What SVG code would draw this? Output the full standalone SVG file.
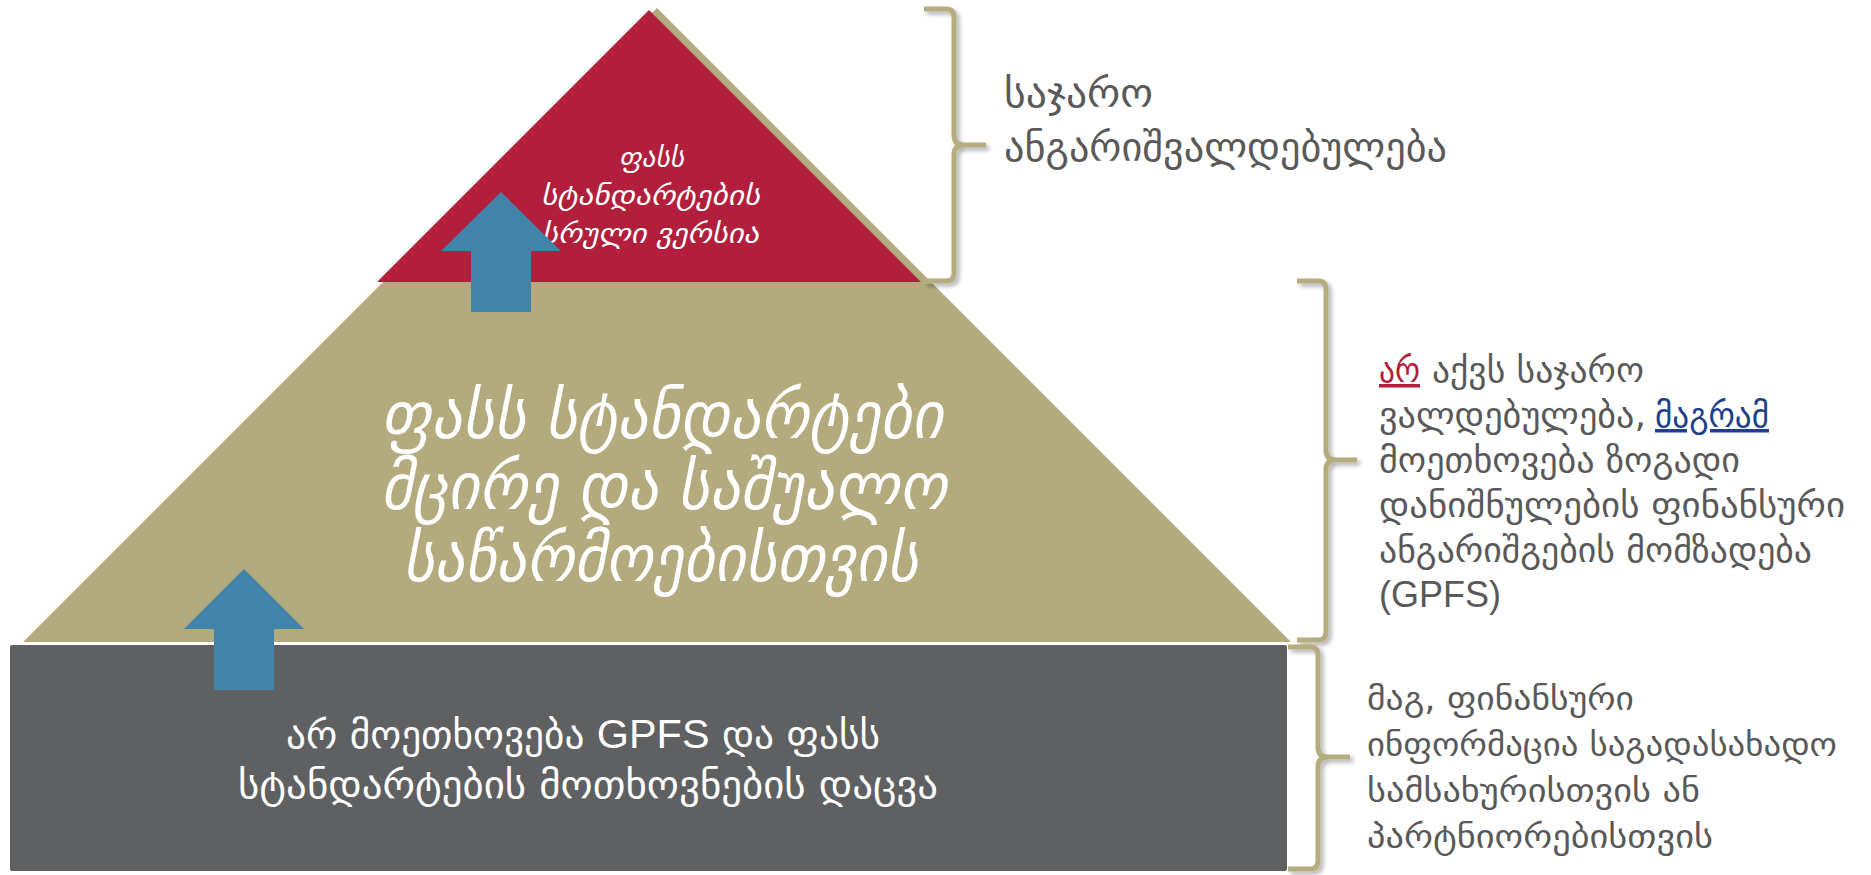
<svg xmlns="http://www.w3.org/2000/svg" width="1871" height="875" viewBox="0 0 1871 875">
<style>
.geo{font-family:"DejaVu Sans","Noto Sans",sans-serif}
.lat{font-family:"Liberation Sans",Arial,sans-serif}
.wt{fill:#ffffff;font-style:italic}
.gt{fill:#595959}
.brace{fill:none;stroke:#b5ad80;stroke-width:5;stroke-linecap:butt;stroke-linejoin:round;filter:url(#sh)}
.arrow{fill:#4283a9}
</style>
<defs>
<filter id="sh" x="-50%" y="-10%" width="200%" height="120%">
<feDropShadow dx="3" dy="3" stdDeviation="2" flood-color="#000" flood-opacity="0.3"/>
</filter>
</defs>
<rect width="1871" height="875" fill="#ffffff"/>
<g id="tier-middle">
<polygon points="657,8 1291,642 23,642" fill="#b3aa7d"/>
<text class="geo wt" font-size="66" x="381" y="438" textLength="562" lengthAdjust="spacingAndGlyphs">ფასს სტანდარტები</text>
<text class="geo wt" font-size="66" x="381" y="509" textLength="566" lengthAdjust="spacingAndGlyphs">მცირე და საშუალო</text>
<text class="geo wt" font-size="66" x="403" y="581" textLength="515" lengthAdjust="spacingAndGlyphs">საწარმოებისთვის</text>
</g>
<g id="tier-top">
<polygon points="649,10 921,282 377,282" fill="#b21f3c"/>
<text class="geo wt" font-size="28" x="619" y="167" textLength="65" lengthAdjust="spacingAndGlyphs">ფასს</text>
<text class="geo wt" font-size="28" x="541" y="205" textLength="219" lengthAdjust="spacingAndGlyphs">სტანდარტების</text>
<text class="geo wt" font-size="28" x="542" y="243" textLength="217" lengthAdjust="spacingAndGlyphs">სრული ვერსია</text>
</g>
<g id="tier-bottom">
<rect x="10" y="645" width="1277" height="226" rx="2" fill="#5f6062"/>
<text class="geo" fill="#ffffff" font-size="38" x="286" y="748" textLength="594" lengthAdjust="spacingAndGlyphs">არ მოეთხოვება <tspan class="lat" font-size="40">GPFS</tspan> და ფასს</text>
<text class="geo" fill="#ffffff" font-size="38" x="238" y="798" textLength="700" lengthAdjust="spacingAndGlyphs">სტანდარტების მოთხოვნების დაცვა</text>
</g>
<g id="note-top">
<path class="brace" d="M924,9 L946,9 Q954,9 954,17 L954,135 Q954,145 964,145 L986,145 M964,145 Q954,145 954,155 L954,273 Q954,281 946,281 L924,281"/>
<text class="geo gt" font-size="40" x="1004" y="107" textLength="149" lengthAdjust="spacingAndGlyphs">საჯარო</text>
<text class="geo gt" font-size="40" x="1004" y="161" textLength="443" lengthAdjust="spacingAndGlyphs">ანგარიშვალდებულება</text>
</g>
<g id="note-middle">
<path class="brace" d="M1297,281 L1318,281 Q1326,281 1326,289 L1326,450 Q1326,460 1336,460 L1357,460 M1336,460 Q1326,460 1326,470 L1326,632 Q1326,640 1318,640 L1297,640"/>
<text class="geo" fill="#b31e3b" text-decoration="underline" font-size="35" x="1379" y="382" textLength="41" lengthAdjust="spacingAndGlyphs">არ</text>
<text class="geo gt" font-size="35" x="1432" y="382" textLength="212" lengthAdjust="spacingAndGlyphs">აქვს საჯარო</text>
<text class="geo gt" font-size="35" x="1379" y="427" textLength="267" lengthAdjust="spacingAndGlyphs">ვალდებულება,</text>
<text class="geo" fill="#213e8c" text-decoration="underline" font-size="35" x="1655" y="427" textLength="114" lengthAdjust="spacingAndGlyphs">მაგრამ</text>
<text class="geo gt" font-size="35" x="1379" y="472" textLength="361" lengthAdjust="spacingAndGlyphs">მოეთხოვება ზოგადი</text>
<text class="geo gt" font-size="35" x="1379" y="517" textLength="466" lengthAdjust="spacingAndGlyphs">დანიშნულების ფინანსური</text>
<text class="geo gt" font-size="35" x="1379" y="562" textLength="433" lengthAdjust="spacingAndGlyphs">ანგარიშგების მომზადება</text>
<text class="lat gt" font-size="36" x="1379" y="607">(GPFS)</text>
</g>
<g id="note-bottom">
<path class="brace" d="M1288,647 L1310,647 Q1318,647 1318,655 L1318,747 Q1318,757 1328,757 L1350,757 M1328,757 Q1318,757 1318,767 L1318,861 Q1318,869 1310,869 L1288,869"/>
<text class="geo gt" font-size="33" x="1367" y="710" textLength="267" lengthAdjust="spacingAndGlyphs">მაგ, ფინანსური</text>
<text class="geo gt" font-size="33" x="1367" y="756" textLength="470" lengthAdjust="spacingAndGlyphs">ინფორმაცია საგადასახადო</text>
<text class="geo gt" font-size="33" x="1367" y="802" textLength="333" lengthAdjust="spacingAndGlyphs">სამსახურისთვის ან</text>
<text class="geo gt" font-size="33" x="1367" y="848" textLength="346" lengthAdjust="spacingAndGlyphs">პარტნიორებისთვის</text>
</g>
<g id="connectors">
<polygon class="arrow" points="501,192 561,251 531,251 531,312 471,312 471,251 441,251"/>
<polygon class="arrow" points="244,569 304,629 274,629 274,690 214,690 214,629 184,629"/>
</g>
</svg>
